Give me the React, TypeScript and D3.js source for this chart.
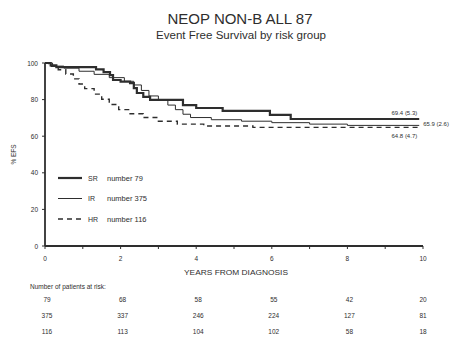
import React from "react";
import * as d3 from "d3";

// Kaplan-Meier steps (years, % event free)
const srTimes = [0, 0.15, 0.3, 1.35, 1.55, 1.72, 1.8, 2.0, 2.25, 2.35, 2.43, 2.6, 2.78, 3.65, 4.0, 4.7, 5.95, 6.5, 9.9];
const srSurv = [100, 98.7, 97.8, 96.5, 95, 93.4, 90.7, 89.8, 89, 86.3, 83.6, 81.5, 79.8, 77, 75.4, 73.8, 71.6, 69.4, 69.4];

const irTimes = [0, 0.2, 0.5, 0.9, 1.3, 1.7, 2.1, 2.35, 2.55, 2.75, 3.0, 3.25, 3.45, 3.65, 3.85, 4.4, 5.2, 6.0, 7.0, 8.0, 9.9];
const irSurv = [100, 98.3, 97.2, 95.5, 93.8, 92, 90, 88, 85, 82, 79.5, 77, 74.5, 72, 70.2, 69, 68.2, 67.4, 66.6, 65.9, 65.9];

const hrTimes = [0, 0.1, 0.35, 0.55, 0.75, 0.9, 1.05, 1.3, 1.5, 1.7, 1.95, 2.25, 2.6, 3.0, 3.5, 4.2, 5.5, 9.9];
const hrSurv = [100, 98.2, 96.3, 94, 91.3, 88.5, 86, 83, 80.2, 77.3, 74.5, 72.3, 70.2, 68.2, 66.6, 65.6, 64.8, 64.8];

const groups = ["SR", "IR", "HR"];
const legendText = ["number 79", "number 375", "number 116"];
const endLabels = ["69.4 (5.3)", "65.9 (2.6)", "64.8 (4.7)"];

const xTicks = [0, 2, 4, 6, 8, 10];
const yTicks = [0, 20, 40, 60, 80, 100];

const atRiskSR = [79, 68, 58, 55, 42, 20];
const atRiskIR = [375, 337, 246, 224, 127, 81];
const atRiskHR = [116, 113, 104, 102, 58, 18];

const ink = "#2e2e2e";
const font = "Liberation Sans, Arial, sans-serif";

export default function App() {
  const x = d3.scaleLinear().domain([0, 10]).range([45, 423]);
  const y = d3.scaleLinear().domain([0, 100]).range([246, 63]);

  const line = d3
    .line<[number, number]>()
    .x((d) => x(d[0]))
    .y((d) => y(d[1]))
    .curve(d3.curveStepAfter);

  const series = [
    { pts: d3.zip(srTimes, srSurv) as [number, number][], width: 2.2, dash: "none" },
    { pts: d3.zip(irTimes, irSurv) as [number, number][], width: 1, dash: "none" },
    { pts: d3.zip(hrTimes, hrSurv) as [number, number][], width: 1.4, dash: "5,4" },
  ];

  const rows = [atRiskSR, atRiskIR, atRiskHR];
  const minor = d3.range(0, 10.01, 1);

  return (
    <svg
      width={457}
      height={340}
      style={{ position: "absolute", left: 0, top: 0, background: "#fff" }}
      fontFamily={font}
      fill={ink}
    >
      {/* titles */}
      <text x={240} y={24} textAnchor="middle" fontSize={14} textLength={145} lengthAdjust="spacingAndGlyphs">
        NEOP NON-B ALL 87
      </text>
      <text x={241} y={39} textAnchor="middle" fontSize={10} textLength={170} lengthAdjust="spacingAndGlyphs">
        Event Free Survival by risk group
      </text>

      {/* axes */}
      <line x1={x(0)} x2={x(0)} y1={y(0)} y2={y(100)} stroke={ink} strokeWidth={1.8} />
      <line x1={x(0)} x2={x(10)} y1={y(0)} y2={y(0)} stroke={ink} strokeWidth={1.8} />
      {yTicks.map((t) => (
        <g key={"y" + t}>
          <line x1={x(0) - 3} x2={x(0)} y1={y(t)} y2={y(t)} stroke={ink} strokeWidth={1} />
          <text x={x(0) - 7} y={y(t) + 2.5} textAnchor="end" fontSize={6.5}>
            {t}
          </text>
        </g>
      ))}
      {minor.map((t) => (
        <line key={"m" + t} x1={x(t)} x2={x(t)} y1={y(0)} y2={y(0) + 3} stroke={ink} strokeWidth={1} />
      ))}
      {xTicks.map((t) => (
        <text key={"x" + t} x={x(t)} y={y(0) + 15} textAnchor="middle" fontSize={6.5}>
          {t}
        </text>
      ))}
      <text x={236} y={275} textAnchor="middle" fontSize={7} textLength={104} lengthAdjust="spacingAndGlyphs">
        YEARS FROM DIAGNOSIS
      </text>
      <text
        transform={`translate(16,${y(50)}) rotate(-90)`}
        textAnchor="middle"
        fontSize={6.5}
      >
        % EFS
      </text>

      {/* curves */}
      {series.map((s, i) => (
        <path
          key={groups[i]}
          d={line(s.pts) ?? ""}
          fill="none"
          stroke={ink}
          strokeWidth={s.width}
          strokeDasharray={s.dash}
        />
      ))}

      {/* end labels */}
      <text x={x(9.9) - 2} y={y(srSurv[srSurv.length - 1]) - 4} textAnchor="end" fontSize={6}>
        {endLabels[0]}
      </text>
      <text x={x(9.9) + 4} y={y(irSurv[irSurv.length - 1]) + 1} fontSize={6}>
        {endLabels[1]}
      </text>
      <text x={x(9.9) - 2} y={y(hrSurv[hrSurv.length - 1]) + 11} textAnchor="end" fontSize={6}>
        {endLabels[2]}
      </text>

      {/* legend */}
      {groups.map((g, i) => {
        const ly = 178 + i * 20.5;
        return (
          <g key={"l" + g}>
            <line
              x1={58}
              x2={82}
              y1={ly}
              y2={ly}
              stroke={ink}
              strokeWidth={series[i].width}
              strokeDasharray={series[i].dash}
            />
            <text x={88} y={ly + 2.5} fontSize={7}>
              {g}
            </text>
            <text x={107} y={ly + 2.5} fontSize={7.5}>
              {legendText[i]}
            </text>
          </g>
        );
      })}

      {/* numbers at risk */}
      <text x={30} y={289} fontSize={6.5}>
        Number of patients at risk:
      </text>
      {rows.map((r, ri) =>
        r.map((v, ci) => (
          <text
            key={ri + "-" + ci}
            x={x(xTicks[ci]) + (ci === 5 ? 0 : 2)}
            y={302 + ri * 16}
            textAnchor="middle"
            fontSize={6.5}
          >
            {v}
          </text>
        ))
      )}
    </svg>
  );
}
